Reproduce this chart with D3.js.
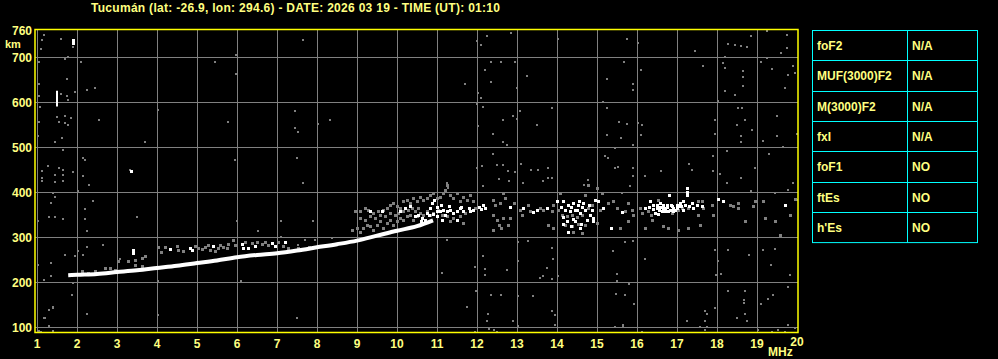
<!DOCTYPE html>
<html>
<head>
<meta charset="utf-8">
<script src="https://cdn.jsdelivr.net/npm/d3@7"></script>
<style>
body { margin: 0; background: #000; }
text { font-family: "Liberation Sans", Arial, sans-serif; font-weight: bold; }
</style>
</head>
<body>
<div id="iono"></div>
<script>
var title = "Tucumán (lat: -26.9, lon: 294.6) - DATE: 2026 03 19 - TIME (UT): 01:10";

var freqTicks = [1, 2, 3, 4, 5, 6, 7, 8, 9, 10, 11, 12, 13, 14, 15, 16, 17, 18, 19, 20];
var heightTicks = [100, 200, 300, 400, 500, 600, 700];

// main O trace (MHz, km)
var traceFreq = [1.78, 2.0, 2.5, 3.0, 3.5, 4.0, 4.5, 5.0, 5.5, 6.0, 6.5, 7.0, 7.5, 8.0, 8.5, 9.0, 9.5, 10.0, 10.5, 10.9];
var traceHeight = [215, 216, 218, 222, 226, 231, 236, 242, 248, 255, 260, 264, 270, 277, 284, 292, 303, 314, 324, 337];

// scattered noise echoes [MHz, km]
var noiseDots = [
    [1.18,748],[1.13,738],[1.60,741],[1.89,722],[1.10,718],[1.05,690],[1.78,699],[1.70,695],[2.10,688],[5.45,690],
    [5.98,705],[5.98,662],[1.05,640],[1.74,650],[2.24,627],[2.45,631],[1.95,622],[1.60,618],[1.74,613],[1.78,605],
    [1.05,613],[1.08,590],[4.03,583],[5.78,556],[2.55,561],[1.49,566],[1.70,568],[1.70,553],[1.78,550],[1.85,564],
    [1.55,556],[1.05,556],[1.63,520],[1.45,511],[3.70,511],[1.02,524],[1.64,494],[2.16,476],[2.20,471],[5.95,471],
    [1.28,457],[1.55,453],[1.66,450],[1.13,447],[1.45,438],[1.66,438],[1.91,444],[2.16,436],[1.13,431],[1.13,425],
    [1.45,422],[1.66,425],[2.30,416],[3.33,449],[2.03,403],[1.41,398],[1.45,389],[1.35,376],[2.41,381],[2.20,362],
    [1.30,344],[1.45,344],[1.66,340],[2.20,340],[3.49,344],[5.99,336],[7.10,335],[2.24,314],[1.02,335],[6.53,314],
    [7.10,301],[2.24,278],[2.66,283],[2.03,270],[1.70,261],[1.95,257],[2.16,259],[3.08,251],[1.35,242],[1.02,238],
    [4.03,203],[6.10,203],[1.91,198],[1.18,205],[1.35,213],[1.88,172],[2.24,129],[4.03,126],[1.30,138],[1.41,142],
    [1.18,120],[1.30,103],[1.41,91],[1.05,91],[1.09,89],[1.20,121],[1.39,144],
    [7.64,738],[11.99,735],[12.09,727],[12.24,746],[12.84,753],[12.34,689],[12.59,690],[12.95,690],[12.20,672],[13.24,658],
    [12.34,644],[11.70,640],[12.99,631],[12.03,620],[12.09,609],[11.99,596],[12.14,590],[13.08,581],[12.89,568],[12.99,563],
    [12.64,561],[13.49,550],[12.03,546],[12.39,529],[7.45,579],[8.33,561],[8.03,551],[7.45,542],[7.53,533],[12.64,511],
    [12.74,504],[7.49,476],[7.64,420],[12.39,484],[12.12,458],[12.49,459],[12.64,461],[13.09,462],[12.78,447],[12.95,444],
    [13.34,450],[13.53,450],[11.99,453],[12.56,430],[12.81,424],[13.16,420],[12.14,413],[13.66,425],[11.24,420],[11.28,409],
    [11.24,293],[12.16,257],[11.95,233],[12.20,230],[12.20,216],[12.74,227],[11.12,220],[13.58,209],[13.03,288],[13.28,292],
    [13.03,247],[13.66,213],[11.97,179],[12.34,172],[12.59,172],[13.03,168],[13.39,170],[11.74,144],[12.28,130],[12.24,113],
    [12.91,113],[13.03,103],[12.43,94],[7.53,283],[7.70,293],[7.95,293],[8.37,298],[7.49,120],[7.89,336],[11.95,89],
    [12.49,89],[12.30,95],
    [14.03,741],[15.74,741],[16.03,731],[17.45,714],[18.28,729],[18.45,727],[18.60,724],[18.74,722],[18.85,746],[19.24,758],
    [19.74,721],[19.74,750],[19.60,709],[15.68,689],[16.10,672],[15.24,650],[15.89,640],[15.89,627],[17.66,679],[18.20,699],
    [18.16,687],[18.20,675],[18.66,668],[18.66,655],[18.66,635],[19.10,689],[19.24,698],[19.37,674],[19.77,659],[19.70,631],
    [19.91,679],[19.95,664],[18.20,624],[18.45,616],[18.03,603],[15.16,600],[13.88,587],[15.24,587],[15.55,555],[15.74,551],
    [16.03,553],[16.12,550],[15.24,527],[15.60,520],[16.10,526],[15.89,504],[15.45,498],[17.95,561],[17.95,529],[18.53,587],
    [18.62,587],[18.49,548],[18.70,561],[18.60,524],[18.88,538],[19.16,514],[19.49,568],[19.49,524],[19.66,501],[19.99,529],
    [18.24,490],[18.60,512],[19.30,484],[15.20,479],[15.28,475],[15.45,453],[15.53,455],[15.89,453],[15.89,435],[16.20,435],
    [16.60,446],[17.30,462],[17.37,450],[17.91,479],[17.91,446],[18.08,440],[18.24,420],[18.60,431],[18.95,453],[18.85,403],
    [19.45,398],[19.78,405],[19.91,420],[19.99,383],[13.77,453],[13.77,431],[13.88,431],[14.68,416],[14.78,427],[15.83,413],
    [15.63,398],
    [15.70,290],[15.91,292],[13.87,275],[13.91,252],[15.41,270],[16.20,252],[17.95,272],[18.03,247],[18.10,218],[17.97,216],
    [18.28,272],[18.80,261],[19.16,272],[19.45,274],[19.35,238],[19.83,216],[13.74,231],[13.87,207],[14.03,213],[15.49,218],
    [15.49,203],[15.80,196],[18.28,181],[18.70,179],[18.68,161],[18.68,153],[15.93,150],[15.47,173],[15.70,172],[19.41,172],
    [19.28,163],[19.10,150],[19.78,190],[13.87,136],[13.95,126],[17.70,136],[17.74,129],[17.95,142],[18.49,120],[18.70,129],
    [18.74,113],[17.70,113],[17.74,101],[17.70,94],[17.24,113],[17.58,101],[13.95,105],[15.45,101],[15.66,101],[19.03,94],
    [19.37,90],[19.53,94],[19.70,90],[19.78,105],[19.95,98],[16.12,90],[15.66,105]
];

// grey spread echoes [MHz, km]
var spreadGrey = [
    [4.03,277],[4.10,267],[4.20,277],[4.49,281],[4.52,272],[4.66,270],[4.95,279],[5.03,275],[5.12,274],[5.20,278],
    [5.28,283],[5.33,272],[5.45,270],[5.53,275],[5.58,283],[5.66,277],[5.74,275],[5.78,284],[5.91,294],[5.95,283],
    [6.20,290],[6.37,287],[6.49,290],[6.62,284],[6.70,290],[6.78,283],[7.03,290],[7.16,279],[7.28,275],
    [3.03,246],[3.28,246],[3.45,250],[3.45,238],[3.62,253],[3.62,235],[3.70,257],[2.70,231],[2.83,232],[2.95,227],
    [2.45,225],[2.28,221],[2.20,218],[2.12,224],[7.53,276],[7.80,278],[8.10,279],
    [8.95,358],[9.08,357],[9.20,364],[9.28,361],[9.41,353],[9.53,357],[9.66,361],[9.74,364],[9.83,372],[9.91,376],
    [9.99,368],[10.08,364],[10.16,379],[10.24,383],[10.33,376],[10.41,387],[10.49,379],[10.58,390],[10.66,383],[10.74,387],
    [10.83,394],[10.91,398],[10.99,387],[11.08,390],[11.16,398],[11.20,405],[11.24,416],[11.33,394],[11.41,387],[11.49,398],
    [11.58,379],[11.66,390],[11.74,383],[11.83,394],[11.91,379],[11.95,364],
    [8.87,316],[8.99,321],[9.08,311],[9.16,320],[9.24,327],[9.33,324],[9.41,316],[9.49,327],[9.58,335],[9.66,320],
    [9.74,331],[9.83,338],[9.91,327],[9.99,335],[10.08,342],[10.16,338],[10.24,346],[10.33,350],[10.41,338],[10.49,346],
    [10.58,353],[10.66,350],[10.74,358],[10.83,350],[10.91,353],[11.03,361],[11.12,350],[11.24,346],[11.33,335],[11.41,342],
    [11.49,338],[11.58,346],[11.70,353],[11.66,331],
    [9.08,342],[9.20,338],[9.33,346],[9.45,342],[9.58,350],[9.70,346],[9.83,353],[9.95,350],[10.03,353],[10.16,357],
    [10.28,361],[10.37,364],[10.45,358],[10.53,364],
    [12.39,383],[12.45,372],[12.57,376],[12.66,398],[12.70,387],[12.93,376],[13.08,361],[13.12,350],[13.28,372],[13.33,358],
    [13.58,364],[13.66,361],[12.41,350],[12.49,338],[12.56,327],[12.66,342],[12.83,342],[12.41,316],[12.59,320],[12.78,327],
    [14.03,361],[14.12,350],[14.24,346],[14.37,350],[14.49,344],[14.62,350],[14.78,364],[14.87,372],[14.20,327],[14.37,324],
    [14.53,329],[14.70,327],[14.41,312],[14.62,309],[14.99,331],[15.08,361],[15.28,376],[15.41,379],[15.49,364],[15.70,358],
    [15.78,376],[15.88,361],[15.12,398],[14.99,409],[14.78,416],[13.91,372],[13.87,357],[13.78,327],[13.91,320],[14.08,398],
    [14.70,394],
    [16.08,364],[16.12,353],[16.28,358],[16.35,350],[16.53,383],[16.87,353],[17.03,361],[17.12,364],[17.28,364],[17.41,364],
    [17.53,379],[17.66,364],[17.62,379],[17.87,372],[17.91,350],[18.33,372],[18.41,368],[18.53,376],[18.53,364],[18.91,368],
    [18.95,379],[19.16,381],[18.70,335],[19.20,342],[19.45,335],[19.58,305],[19.83,350],[19.95,385],[15.91,350],[15.78,335],
    [15.58,320],[16.20,320],[16.66,324],[16.78,320],[17.03,316],[17.28,321],[17.53,350],[17.58,327],[16.37,338]
];

// white (strong) spread echoes [MHz, km]
var spreadWhite = [
    [1.89,738],[1.89,731],[3.36,446],[3.41,272],[3.41,264],
    [4.33,274],[4.83,275],[4.87,271],[5.41,279],[6.12,284],[6.16,275],[6.28,275],[6.45,281],[6.87,287],[6.95,279],[7.20,290],
    [9.33,357],[9.62,358],[10.08,357],[10.20,364],[10.33,368],[10.45,346],[10.53,350],[10.62,342],[10.70,338],[10.74,353],
    [10.83,364],[10.87,376],[10.93,383],[10.99,358],[11.08,357],[11.16,361],[11.24,357],[11.33,361],[11.41,353],[11.49,358],
    [11.58,364],[11.66,358],[11.83,358],[11.89,361],[10.99,346],[11.20,350],[11.12,338],[11.49,338],
    [10.60,335],[10.80,348],[10.90,352],[11.00,366],[11.10,370],[11.30,368],[11.60,366],[11.80,364],[12.05,366],[12.10,362],
    [12.16,370],[12.20,364],[12.83,366],[13.16,364],[13.41,355],[13.49,361],
    [14.16,379],[14.20,361],[14.28,372],[14.33,357],[14.41,376],[14.45,361],[14.53,372],[14.58,353],[14.66,376],[14.70,361],
    [14.83,350],[14.91,342],[14.95,383],[15.03,379],[15.16,364],[14.24,335],[14.45,336],[14.58,320],[14.28,311],[14.74,338],
    [13.74,364],[13.99,379],[15.62,356],[15.35,320],
    [14.10,366],[14.15,345],[14.35,366],[14.40,340],[14.50,360],[14.55,380],[14.62,366],[14.80,372],[14.88,360],[14.60,330],
    [14.35,325],[14.15,330],[14.90,335],
    [16.20,364],[16.33,379],[16.41,372],[16.49,364],[16.58,376],[16.62,358],[16.70,364],[16.74,372],[16.80,394],[16.83,361],
    [16.91,364],[16.99,372],[17.08,376],[17.16,379],[17.24,401],[17.24,394],[17.24,409],[17.20,372],[17.37,376],[17.49,372],
    [17.62,368],[16.45,353],[16.53,351],[16.78,358],[16.66,364],[16.95,361],[16.58,366],[16.87,368],[17.03,368],
    [16.30,366],[16.40,362],[16.50,370],[16.55,360],[16.65,372],[16.70,358],[16.75,366],[16.85,372],[16.90,358],[17.00,364],
    [17.10,368],[17.15,360],[17.30,368],[17.40,364],
    [18.16,379],[18.02,385],[19.70,372]
];

// vertical white streak [MHz, km low, km high]
var whiteBars = [[1.50, 590, 625]];

var paramNames = ["foF2", "MUF(3000)F2", "M(3000)F2", "fxI", "foF1", "ftEs", "h'Es"];
var paramValues = ["N/A", "N/A", "N/A", "N/A", "NO", "NO", "NO"];

var width = 998, height = 359;
var textColor = "#ffff80";
var grey = "#808080";

var svg = d3.select("#iono")
    .append("svg")
    .attr("width", width)
    .attr("height", height)
    .style("background", "#000");

var x = d3.scaleLinear().domain([1, 20]).range([37, 797]);
var y = d3.scaleLinear().domain([100, 760]).range([327, 30]);

// grid
svg.append("g")
    .selectAll("line")
    .data(freqTicks.slice(0, -1))
    .enter()
    .append("line")
    .attr("x1", function (d) { return Math.round(x(d)) + 0.5; })
    .attr("x2", function (d) { return Math.round(x(d)) + 0.5; })
    .attr("y1", 30)
    .attr("y2", 333)
    .attr("stroke", grey);

svg.append("g")
    .selectAll("line")
    .data(heightTicks)
    .enter()
    .append("line")
    .attr("x1", 35)
    .attr("x2", 798)
    .attr("y1", function (d) { return Math.round(y(d)) + 0.5; })
    .attr("y2", function (d) { return Math.round(y(d)) + 0.5; })
    .attr("stroke", grey);

// echoes
function dots(data, color, size) {
    svg.append("g")
        .selectAll("rect")
        .data(data)
        .enter()
        .append("rect")
        .attr("x", function (d) { return Math.round(x(d[0])) - 1; })
        .attr("y", function (d) { return Math.round(y(d[1])) - 1; })
        .attr("width", size)
        .attr("height", size)
        .attr("fill", color);
}
dots(noiseDots, grey, 2);
dots(spreadGrey, grey, 3);

var line = d3.line()
    .x(function (d) { return x(d[0]); })
    .y(function (d) { return y(d[1]); })
    .curve(d3.curveMonotoneX);

svg.append("path")
    .datum(traceFreq.map(function (f, i) { return [f, traceHeight[i]]; }))
    .attr("d", line)
    .attr("fill", "none")
    .attr("stroke", "#fff")
    .attr("stroke-width", 4);

dots(spreadWhite, "#fff", 3);

svg.append("g")
    .selectAll("rect")
    .data(whiteBars)
    .enter()
    .append("rect")
    .attr("x", function (d) { return Math.round(x(d[0])) - 1; })
    .attr("y", function (d) { return y(d[2]); })
    .attr("width", 2)
    .attr("height", function (d) { return y(d[1]) - y(d[2]); })
    .attr("fill", "#fff");

// frame
svg.append("rect")
    .attr("x", 35)
    .attr("y", 29.5)
    .attr("width", 763)
    .attr("height", 303)
    .attr("fill", "none")
    .attr("stroke", "#ffff00")
    .attr("stroke-width", 1.5);

// title
svg.append("text")
    .attr("x", 91)
    .attr("y", 12)
    .attr("font-size", 12)
    .attr("textLength", 409)
    .attr("fill", textColor)
    .text(title);

// height labels
svg.append("g")
    .selectAll("text")
    .data([760].concat(heightTicks.slice().reverse()))
    .enter()
    .append("text")
    .attr("x", 32)
    .attr("y", function (d) { return y(d) + 5; })
    .attr("text-anchor", "end")
    .attr("font-size", 12)
    .attr("fill", textColor)
    .text(function (d) { return d; });

svg.append("text")
    .attr("x", 5)
    .attr("y", 48)
    .attr("font-size", 11)
    .attr("fill", textColor)
    .text("km");

// frequency labels
svg.append("g")
    .selectAll("text")
    .data(freqTicks)
    .enter()
    .append("text")
    .attr("x", function (d) { return x(d); })
    .attr("y", function (d) { return d == 20 ? 346 : 348; })
    .attr("text-anchor", "middle")
    .attr("font-size", 12)
    .attr("fill", textColor)
    .text(function (d) { return d; });

svg.append("text")
    .attr("x", 768)
    .attr("y", 356)
    .attr("font-size", 12)
    .attr("fill", textColor)
    .text("MHz");

// parameter table
var rowH = 30.3;
var table = svg.append("g");
table.append("rect")
    .attr("x", 812.5)
    .attr("y", 30.5)
    .attr("width", 165)
    .attr("height", rowH * paramNames.length)
    .attr("fill", "none")
    .attr("stroke", "#00ffff");
table.append("line")
    .attr("x1", 907.5).attr("x2", 907.5)
    .attr("y1", 30.5).attr("y2", 30.5 + rowH * paramNames.length)
    .attr("stroke", "#00ffff");
table.selectAll(".sep")
    .data(paramNames.slice(1))
    .enter()
    .append("line")
    .attr("class", "sep")
    .attr("x1", 812.5).attr("x2", 977.5)
    .attr("y1", function (d, i) { return Math.round(30 + rowH * (i + 1)) + 0.5; })
    .attr("y2", function (d, i) { return Math.round(30 + rowH * (i + 1)) + 0.5; })
    .attr("stroke", "#00ffff");

table.selectAll(".pname")
    .data(paramNames)
    .enter()
    .append("text")
    .attr("class", "pname")
    .attr("x", 817)
    .attr("y", function (d, i) { return 30 + rowH * i + 20; })
    .attr("font-size", 12)
    .attr("fill", textColor)
    .text(function (d) { return d; });

table.selectAll(".pval")
    .data(paramValues)
    .enter()
    .append("text")
    .attr("class", "pval")
    .attr("x", 912)
    .attr("y", function (d, i) { return 30 + rowH * i + 20; })
    .attr("font-size", 12)
    .attr("fill", textColor)
    .text(function (d) { return d; });
</script>
</body>
</html>
